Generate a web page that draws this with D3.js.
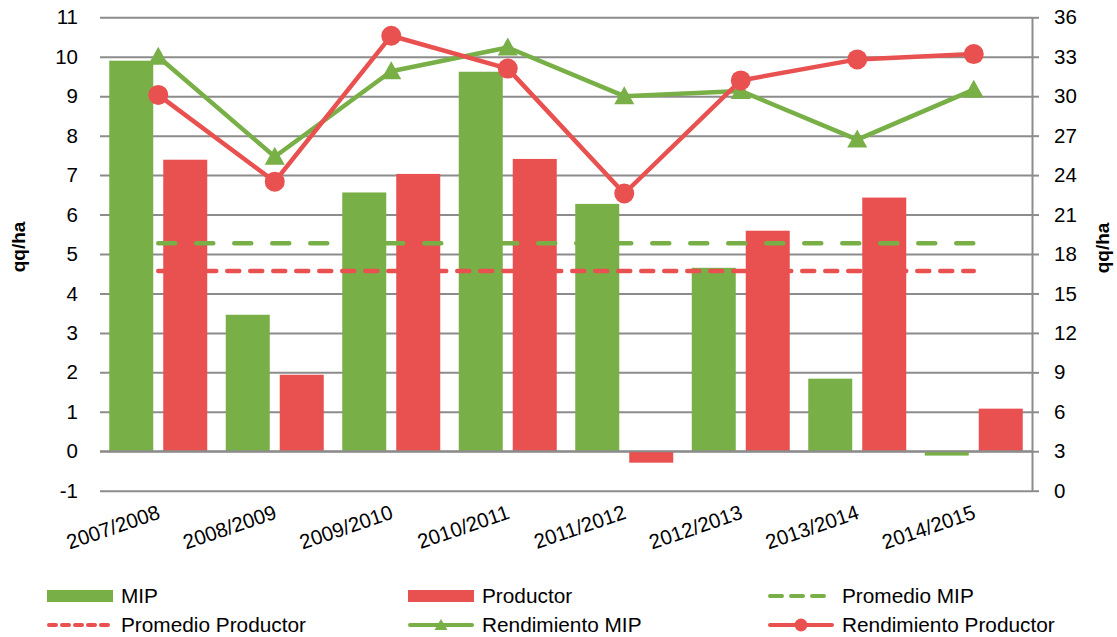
<!DOCTYPE html>
<html>
<head>
<meta charset="utf-8">
<script src="https://cdn.jsdelivr.net/npm/d3@7/dist/d3.min.js"></script>
<style>
  body { margin: 0; background: #fff; }
  svg text { font-family: "Liberation Sans", Arial, sans-serif; fill: #000; }
</style>
</head>
<body>
<svg id="chart" width="1117" height="637"></svg>
<script>
// data
const seasons = ["2007/2008", "2008/2009", "2009/2010", "2010/2011", "2011/2012", "2012/2013", "2013/2014", "2014/2015"];
const mip = [9.90, 3.46, 6.56, 9.62, 6.27, 4.65, 1.84, -0.11];          // qq/ha, left axis
const productor = [7.39, 1.94, 7.03, 7.41, -0.29, 5.59, 6.43, 1.08];   // qq/ha, left axis
const promedioMip = [5.27, 5.27, 5.27, 5.27, 5.27, 5.27, 5.27, 5.27];
const promedioProductor = [4.57, 4.57, 4.57, 4.57, 4.57, 4.57, 4.57, 4.57];
const rendMip = [33.0, 25.4, 31.9, 33.7, 30.0, 30.4, 26.7, 30.5];       // qq/ha, right axis
const rendProductor = [30.1, 23.5, 34.6, 32.1, 22.6, 31.2, 32.8, 33.2]; // qq/ha, right axis
const leftTicks = d3.range(-1, 12);
const rightTicks = d3.range(0, 37, 3);

const green = "#79AF47", red = "#E95151", grid = "#8C8C8C";

const svg = d3.select("#chart");
const pLeft = 100, pRight = 1032, pTop = 17.3, pBottom = 490.7;

const x = d3.scaleBand().domain(seasons).range([pLeft, pRight]);
const xs = d3.scaleBand().domain(["mip", "prod"])
    .range([9.25, x.bandwidth() - 9.25])
    .paddingInner(0.185);
const yL = d3.scaleLinear().domain([-1, 11]).range([pBottom, pTop]);
const yR = d3.scaleLinear().domain([0, 36]).range([pBottom, pTop]);
const cx = s => x(s) + x.bandwidth() / 2;

// left axis + gridlines
const gL = svg.append("g")
    .attr("transform", `translate(${pLeft},0)`)
    .call(d3.axisLeft(yL).tickValues(leftTicks).tickFormat(d => String(d))
      .tickSizeInner(-(pRight - pLeft)).tickSizeOuter(0).tickPadding(22));
gL.select(".domain").remove();
gL.selectAll(".tick line").attr("stroke", grid).attr("stroke-width", 2);
gL.selectAll(".tick text").style("font-size", "20.5px");

// right axis
const gR = svg.append("g")
    .attr("transform", `translate(${pRight},0)`)
    .call(d3.axisRight(yR).tickValues(rightTicks).tickFormat(d => String(d))
      .tickSizeInner(7).tickSizeOuter(0).tickPadding(15));
gR.select(".domain").attr("stroke", grid).attr("stroke-width", 2);
gR.selectAll(".tick line").attr("stroke", grid).attr("stroke-width", 2);
gR.selectAll(".tick text").style("font-size", "20.5px");

// bars
function bars(vals, key, color) {
  svg.append("g").selectAll("rect")
    .data(seasons)
    .join("rect")
    .attr("x", (s) => x(s) + xs(key))
    .attr("width", xs.bandwidth())
    .attr("y", (s, i) => yL(Math.max(0, vals[i])))
    .attr("height", (s, i) => Math.abs(yL(vals[i]) - yL(0)))
    .attr("fill", color);
}
bars(mip, "mip", green);
bars(productor, "prod", red);

// zero line of the category axis
svg.append("line")
  .attr("x1", pLeft).attr("x2", pRight)
  .attr("y1", yL(0)).attr("y2", yL(0))
  .attr("stroke", grid).attr("stroke-width", 2);

// x labels
svg.append("g").selectAll("text")
  .data(seasons)
  .join("text")
  .attr("text-anchor", "end")
  .attr("transform", s => `translate(${cx(s) + 3},518) rotate(-19)`)
  .style("font-size", "20.5px")
  .text(s => s);

// average dashed lines
function dashed(vals, scale, color, dash) {
  svg.append("path")
    .datum(vals)
    .attr("fill", "none")
    .attr("stroke", color)
    .attr("stroke-width", 4.5)
    .attr("stroke-linecap", "round")
    .attr("stroke-dasharray", dash)
    .attr("d", d3.line().x((d, i) => cx(seasons[i])).y(d => scale(d)));
}
dashed(promedioMip, yL, green, "17,21");
dashed(promedioProductor, yL, red, "12,11");

// rendimiento lines
const tri = "M0,-10L10,8L-10,8Z";
function series(vals, color, marker) {
  svg.append("path")
    .datum(vals)
    .attr("fill", "none")
    .attr("stroke", color)
    .attr("stroke-width", 4.5)
    .attr("stroke-linejoin", "round")
    .attr("d", d3.line().x((d, i) => cx(seasons[i])).y(d => yR(d)));
  const g = svg.append("g");
  if (marker == "tri") {
    g.selectAll("path").data(vals).join("path")
      .attr("d", tri)
      .attr("transform", (d, i) => `translate(${cx(seasons[i])},${yR(d)})`)
      .attr("fill", color);
  } else {
    g.selectAll("circle").data(vals).join("circle")
      .attr("cx", (d, i) => cx(seasons[i]))
      .attr("cy", d => yR(d))
      .attr("r", 10)
      .attr("fill", color);
  }
}
series(rendMip, green, "tri");
series(rendProductor, red, "circle");

// axis titles
svg.append("text")
  .attr("transform", "translate(25,247) rotate(-90)")
  .attr("text-anchor", "middle")
  .style("font-size", "19px").style("font-weight", "bold")
  .text("qq/ha");
svg.append("text")
  .attr("transform", "translate(1109,248) rotate(-90)")
  .attr("text-anchor", "middle")
  .style("font-size", "19px").style("font-weight", "bold")
  .text("qq/ha");

// legend
const legendItems = [
  { name: "MIP", type: "bar", color: green },
  { name: "Productor", type: "bar", color: red },
  { name: "Promedio MIP", type: "dash", color: green, dash: "12,9" },
  { name: "Promedio Productor", type: "dash", color: red, dash: "7,6" },
  { name: "Rendimiento MIP", type: "tri", color: green },
  { name: "Rendimiento Productor", type: "circle", color: red }
];
const colX = [47, 408, 768], rowY = [596, 625], sw = 66;
const lg = svg.append("g").selectAll("g")
  .data(legendItems)
  .join("g")
  .attr("transform", (d, i) => `translate(${colX[i % 3]},${rowY[Math.floor(i / 3)]})`);
lg.filter(d => d.type == "bar").append("rect")
  .attr("x", 0).attr("y", -6).attr("width", sw).attr("height", 12)
  .attr("fill", d => d.color);
lg.filter(d => d.type != "bar").append("line")
  .attr("x1", 2).attr("x2", sw - 2)
  .attr("stroke", d => d.color)
  .attr("stroke-width", 4)
  .attr("stroke-linecap", "round")
  .attr("stroke-dasharray", d => d.dash || null);
lg.filter(d => d.type == "tri").append("path")
  .attr("d", "M0,-6L6.5,5L-6.5,5Z")
  .attr("transform", `translate(${sw / 2},0)`)
  .attr("fill", d => d.color);
lg.filter(d => d.type == "circle").append("circle")
  .attr("cx", sw / 2).attr("r", 6.5)
  .attr("fill", d => d.color);
lg.append("text")
  .attr("x", sw + 8)
  .attr("dy", "0.35em")
  .style("font-size", "20.8px")
  .text(d => d.name);
</script>
</body>
</html>
